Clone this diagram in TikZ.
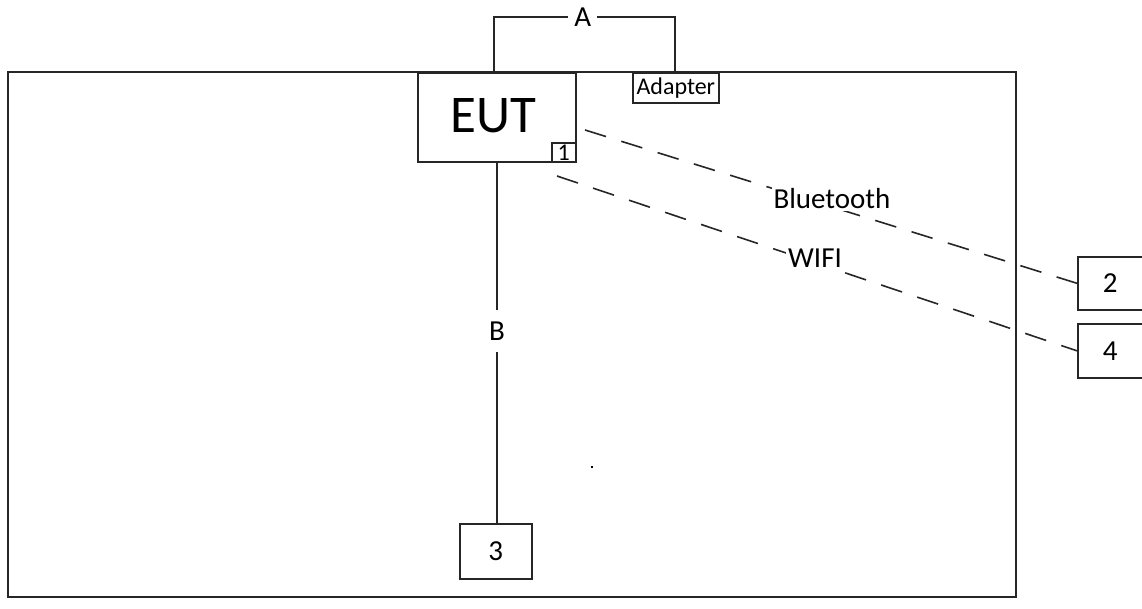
\documentclass[tikz,border=0pt]{standalone}
\usepackage{fontspec}
\setmainfont{Carlito}
\begin{document}
\begin{tikzpicture}[x=1pt,y=-1pt,
  ln/.style={draw=black!85,line width=1.6pt},
  bx/.style={ln,rectangle,inner sep=0pt,anchor=north west},
  lbl/.style={fill=white,inner sep=2pt,font=\fontsize{29}{31}\selectfont},
  num/.style={font=\fontsize{29}{29}\selectfont},
  wl/.style={ln,dash pattern=on 22pt off 16pt}]
\useasboundingbox (0,0) rectangle (1142,608);
\draw[ln] (8,72) rectangle (1016,597);
\node[bx,minimum width=158pt,minimum height=89pt] (eut) at (417,72) {};
\node[font=\fontsize{53}{56}\selectfont] (euttxt) at (493,116) {EUT};
\node[bx,minimum width=24pt,minimum height=19pt,font=\fontsize{24}{24}\selectfont] (one) at (551,142) {1};
\node[bx,fill=white,minimum width=86pt,minimum height=30pt,font=\fontsize{24}{24}\selectfont] (ad) at (632,72) {Adapter};
\node[bx,num,minimum width=72pt,minimum height=55pt] (three) at (459,523) {3};
\node[bx,num,minimum width=65pt,minimum height=53pt] (two) at (1077,256) {2};
\node[bx,num,minimum width=65pt,minimum height=54pt] (four) at (1077,323) {4};
\coordinate (a1) at (494,72);
\coordinate (a2) at (675,72);
\draw[ln] (a1) -- (494,17) -- node[lbl,pos=0.49,inner xsep=6pt] (A) {A} (675,17) -- (a2);
\coordinate (b1) at (497,161);
\draw[ln] (b1) -- node[lbl,pos=0.47,inner ysep=12pt] (B) {B} (three.north -| b1);
\coordinate (bt1) at (585,130);
\coordinate (wf1) at (557,176);
\draw[wl] (bt1) -- (two.west);
\draw[wl] (wf1) -- (four.west);
\node[lbl] (bt) at (832,199) {Bluetooth};
\node[lbl] (wifi) at (815,258) {WIFI};
\fill (591,466) rectangle (593,468);
\end{tikzpicture}
\end{document}
